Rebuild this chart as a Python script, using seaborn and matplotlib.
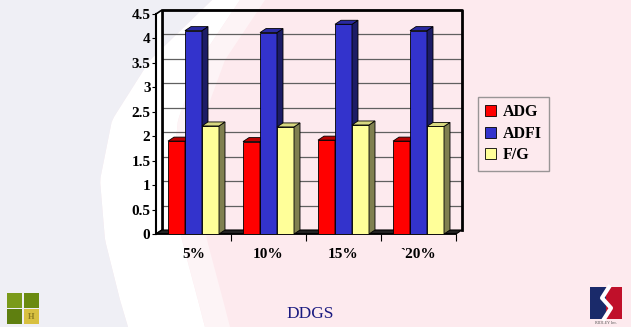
import numpy as np
import pandas as pd
import matplotlib
matplotlib.use("Agg")
import matplotlib.pyplot as plt
import matplotlib.transforms as mtransforms
from matplotlib.patches import Polygon, Patch, Rectangle
import seaborn as sns

# -------------------------------
# Data
# -------------------------------
levels = ["5%", "10%", "15%", "`20%"]
adg = [1.90, 1.89, 1.92, 1.90]
adfi = [4.16, 4.12, 4.29, 4.16]
fg = [2.21, 2.19, 2.23, 2.20]
series = ["ADG", "ADFI", "F/G"]
y_ticks = [0, 0.5, 1, 1.5, 2, 2.5, 3, 3.5, 4, 4.5]

df = pd.DataFrame({
    "Level": levels * 3,
    "Series": ["ADG"] * 4 + ["ADFI"] * 4 + ["F/G"] * 4,
    "Value": adg + adfi + fg,
})

front = {"ADG": "#ff0000", "ADFI": "#3333cc", "F/G": "#ffff99"}
side = {"ADG": "#880000", "ADFI": "#1c1c66", "F/G": "#808050"}
top = {"ADG": "#bb0000", "ADFI": "#2a2aa0", "F/G": "#d8d880"}

serif = ["Liberation Serif", "DejaVu Serif"]

# -------------------------------
# Figure + background
# -------------------------------
W, H = 631, 327
fig = plt.figure(figsize=(W / 100, H / 100), dpi=100)
fig.patch.set_facecolor("#fdeaee")

bg = fig.add_axes([0, 0, 1, 1], zorder=-5)
bg.set_xlim(0, W)
bg.set_ylim(H, 0)
bg.axis("off")
yy = np.linspace(0, H, 60)
left_edge = np.interp(yy, [0, 60, 120, 180, 240, 300, 327], [212, 150, 112, 100, 105, 120, 128])
right_edge = np.interp(yy, [0, 60, 120, 180, 240, 300, 327], [240, 200, 178, 172, 182, 198, 205])
bg.fill_betweenx(yy, left_edge, right_edge, color="white", lw=0)
bg.fill_betweenx(yy, right_edge, right_edge + 25, color="#fdf4f6", lw=0)
bg.fill_betweenx(yy, 0, left_edge, color="#efeff5", lw=0)

# left logo: 2x2 olive squares
for (x0, y0, c) in [(7, 293, "#7a9a1a"), (24, 293, "#6a8a10"), (7, 309, "#5f7f10"), (24, 309, "#d8c040")]:
    bg.add_patch(Rectangle((x0, y0), 15, 15, color=c, lw=0))
bg.text(31.5, 317, "H", ha="center", va="center", fontsize=6, color="#8a7a20",
        family=serif, weight="bold")
# right logo
bg.add_patch(Rectangle((590, 287), 16, 32, color="#1a2a6a", lw=0))
bg.add_patch(Rectangle((606, 287), 16, 32, color="#c0102a", lw=0))
bg.plot([609, 602, 611, 604], [287, 298, 308, 319], color="white", lw=3)
bg.text(606, 323, "RIDLEY Inc.", ha="center", va="center", fontsize=3, color="#555555", family=serif)

fig.text(310 / W, 1 - 314 / H, "DDGS", ha="center", va="center", fontsize=12.5,
         color="#1a1a80", family=serif)

# -------------------------------
# Bars
# -------------------------------
ax = fig.add_axes([156 / W, (H - 234) / H, 300 / W, 220 / H])
ax.patch.set_alpha(0)
sns.barplot(data=df, x="Level", y="Value", hue="Series", hue_order=series,
            palette=front, width=0.68, edgecolor="black", linewidth=0.6,
            saturation=1, legend=False, ax=ax)
ax.set_xlim(-0.5, 3.5)
ax.set_ylim(0, 4.5)

bars = [b for b in ax.patches if isinstance(b, Rectangle) and b.get_height() > 0]
bars = sorted(bars, key=lambda p: p.get_x())

# depth of the 3D effect in pixels -> data units
DX, DY = 6, 4
p0 = ax.transData.transform((0, 0))
p1 = ax.transData.transform((1, 1))
dx = DX / (p1[0] - p0[0])
dy = DY / (p1[1] - p0[1])
back = mtransforms.offset_copy(ax.transData, fig=fig, x=DX, y=DY, units="dots")

# back wall: gridlines + frame
for t in y_ticks[1:]:
    ax.plot([-0.5, 3.5], [t, t], color="#606060", lw=0.9, transform=back, zorder=0.5, clip_on=False)
ax.plot([-0.5, -0.5, 3.5, 3.5], [0, 4.5, 4.5, 0], color="black", lw=2, transform=back,
        zorder=0.6, clip_on=False)
# left wall
ax.add_patch(Polygon([(-0.5, 0), (-0.5, 4.5), (-0.5 + dx, 4.5 + dy), (-0.5 + dx, dy)],
                     closed=True, facecolor="white", edgecolor="black", lw=1.2,
                     zorder=0.7, clip_on=False))
# floor
ax.add_patch(Polygon([(-0.5, 0), (3.5, 0), (3.5 + dx, dy), (-0.5 + dx, dy)], closed=True,
                     facecolor="#222222", edgecolor="black", lw=0.8, zorder=0.8, clip_on=False))

name_of = {tuple(np.round(matplotlib.colors.to_rgb(c), 3)): k for k, c in front.items()}
for i, b in enumerate(bars):
    z = 2 + i * 0.01
    b.set_zorder(z)
    key = name_of[tuple(np.round(b.get_facecolor()[:3], 3))]
    x0, x1, h = b.get_x(), b.get_x() + b.get_width(), b.get_height()
    ax.add_patch(Polygon([(x1, 0), (x1, h), (x1 + dx, h + dy), (x1 + dx, dy)], closed=True,
                         facecolor=side[key], edgecolor="black", lw=0.6, zorder=z + 0.001,
                         clip_on=False))
    ax.add_patch(Polygon([(x0, h), (x1, h), (x1 + dx, h + dy), (x0 + dx, h + dy)], closed=True,
                         facecolor=top[key], edgecolor="black", lw=0.6, zorder=z + 0.002,
                         clip_on=False))

# -------------------------------
# Axes styling
# -------------------------------
for s in ["top", "right"]:
    ax.spines[s].set_visible(False)
ax.spines["left"].set_linewidth(1.5)
ax.spines["bottom"].set_linewidth(1.2)
ax.spines["left"].set_zorder(3)
ax.spines["bottom"].set_zorder(1)

ax.set_yticks(y_ticks)
ax.set_yticklabels([f"{t:g}" for t in y_ticks], family=serif, weight="bold", fontsize=11)
ax.tick_params(axis="y", length=3, width=0.8, pad=1)

ax.set_xticks([0.5, 1.5, 2.5, 3.5])
ax.set_xticklabels([])
ax.set_xticks(range(len(levels)), minor=True)
ax.set_xticklabels(levels, minor=True, family=serif, weight="bold", fontsize=11)
ax.tick_params(axis="x", which="major", length=5, width=0.8)
ax.tick_params(axis="x", which="minor", length=0, pad=10)
ax.set_xlabel("")
ax.set_ylabel("")
ax.grid(False)

handles = [Patch(facecolor=front[s], edgecolor="black", lw=0.6) for s in series]
leg = fig.legend(handles, series, loc="upper left", bbox_to_anchor=(478 / W, 1 - 97 / H),
                 prop={"family": serif, "weight": "bold", "size": 11.5}, frameon=True,
                 fancybox=False, handlelength=0.7, handleheight=0.7, handletextpad=0.4,
                 labelspacing=0.35, borderpad=0.45, borderaxespad=0)
leg.get_frame().set_facecolor("none")
leg.get_frame().set_edgecolor("#808080")

fig.savefig("out.png", dpi=100)
